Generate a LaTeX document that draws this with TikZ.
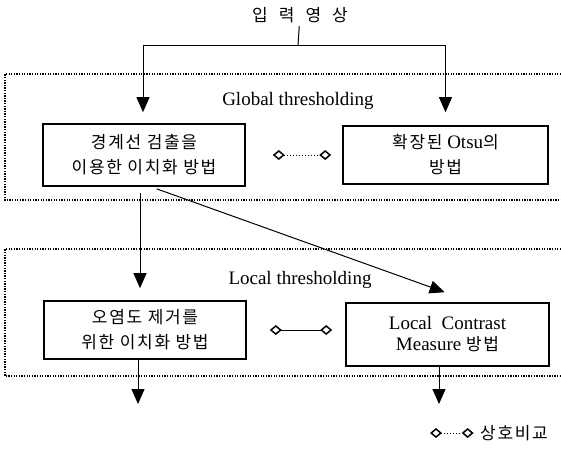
\documentclass[tikz,border=0pt]{standalone}
\usepackage{fontspec}
\setmainfont{Liberation Serif}
\newfontfamily\kr{Noto Sans CJK KR}[LetterSpace=10]
\usetikzlibrary{arrows.meta, positioning, calc}
\newcommand{\ko}[1]{{\kr\fontsize{17}{24}\selectfont #1}}

\begin{document}
\begin{tikzpicture}[x=1pt,y=-1pt,
		box/.style={draw,line width=1.6pt,inner sep=0pt,align=center},
		frame/.style={line width=1.3pt,dash pattern=on 1.3pt off 1.3pt},
		arr/.style={-{Triangle[length=15pt,width=13pt]},line width=1pt},
		cmp/.style={{Diamond[open,length=12pt,width=10pt,line width=1.5pt]}-{Diamond[open,length=12pt,width=10pt,line width=1.5pt]},line width=1pt},
		font=\fontsize{19}{24}\selectfont]
				
				\useasboundingbox (0,0) rectangle (561,448);
				
				\node (title) at (300,15) {\ko{입\hspace{11pt}력\hspace{11pt}영\hspace{11pt}상}};
				
				\draw[frame] (561,74) -- (5,74) -- (5,200) -- (561,200);
				\draw[frame] (561,249) -- (5,249) -- (5,376) -- (561,376);
				
				\node (glob) at (298,101) {Global thresholding};
				\node (loc) at (300,280) {Local thresholding};
				
				\node[box,minimum width=202pt,minimum height=62pt] (edge) at (144,155) {\ko{경계선 검출을}\\[1pt]\ko{이용한 이치화 방법}};
				\node[box,minimum width=205pt,minimum height=58pt] (otsu) at (445.5,155) {\ko{확장된} Otsu\ko{의}\\[1pt]\ko{방법}};
				\node[box,minimum width=202pt,minimum height=58pt] (noise) at (145,330) {\ko{오염도 제거를}\\[1pt]\ko{위한 이치화 방법}};
				\node[box,minimum width=203pt,minimum height=63pt] (lcm) at (447.5,334.5) {Local\ \ Contrast\\[-3pt]Measure \ko{방법}};
				
				\coordinate (split) at (298,45);
				\draw[line width=1pt] (title) -- (split);
				\draw[arr,shorten >=11pt] (split) -| ([xshift=-1pt]edge.north);
				\draw[arr,shorten >=13pt] (split) -| (otsu.north);
				
				\draw[arr,shorten <=6pt,shorten >=12pt] ([xshift=-4pt]edge.south) -- ([xshift=-5pt]noise.north);
				\draw[arr,shorten <=6pt,shorten >=3pt] ([xshift=7pt]edge.south) -- ([yshift=9pt]lcm.north);
				
				\draw[cmp,dotted,shorten <=27pt,shorten >=11pt] (edge) -- (otsu);
				\draw[cmp,shorten <=23pt,shorten >=13pt] (noise.east) -- (noise.east -| lcm.west);
				
				\coordinate (outl) at (138,404);
				\coordinate (outr) at (439,404);
				\draw[arr] (noise.south -| outl) -- (outl);
				\draw[arr] (lcm.south -| outr) -- (outr);
				
				\node (legend) at (514,433) {\ko{상호비교}};
				\coordinate (legl) at (430,433);
				\draw[cmp,dotted,shorten >=3pt] (legl) -- (legend.west);
			\end{tikzpicture}
\end{document}
